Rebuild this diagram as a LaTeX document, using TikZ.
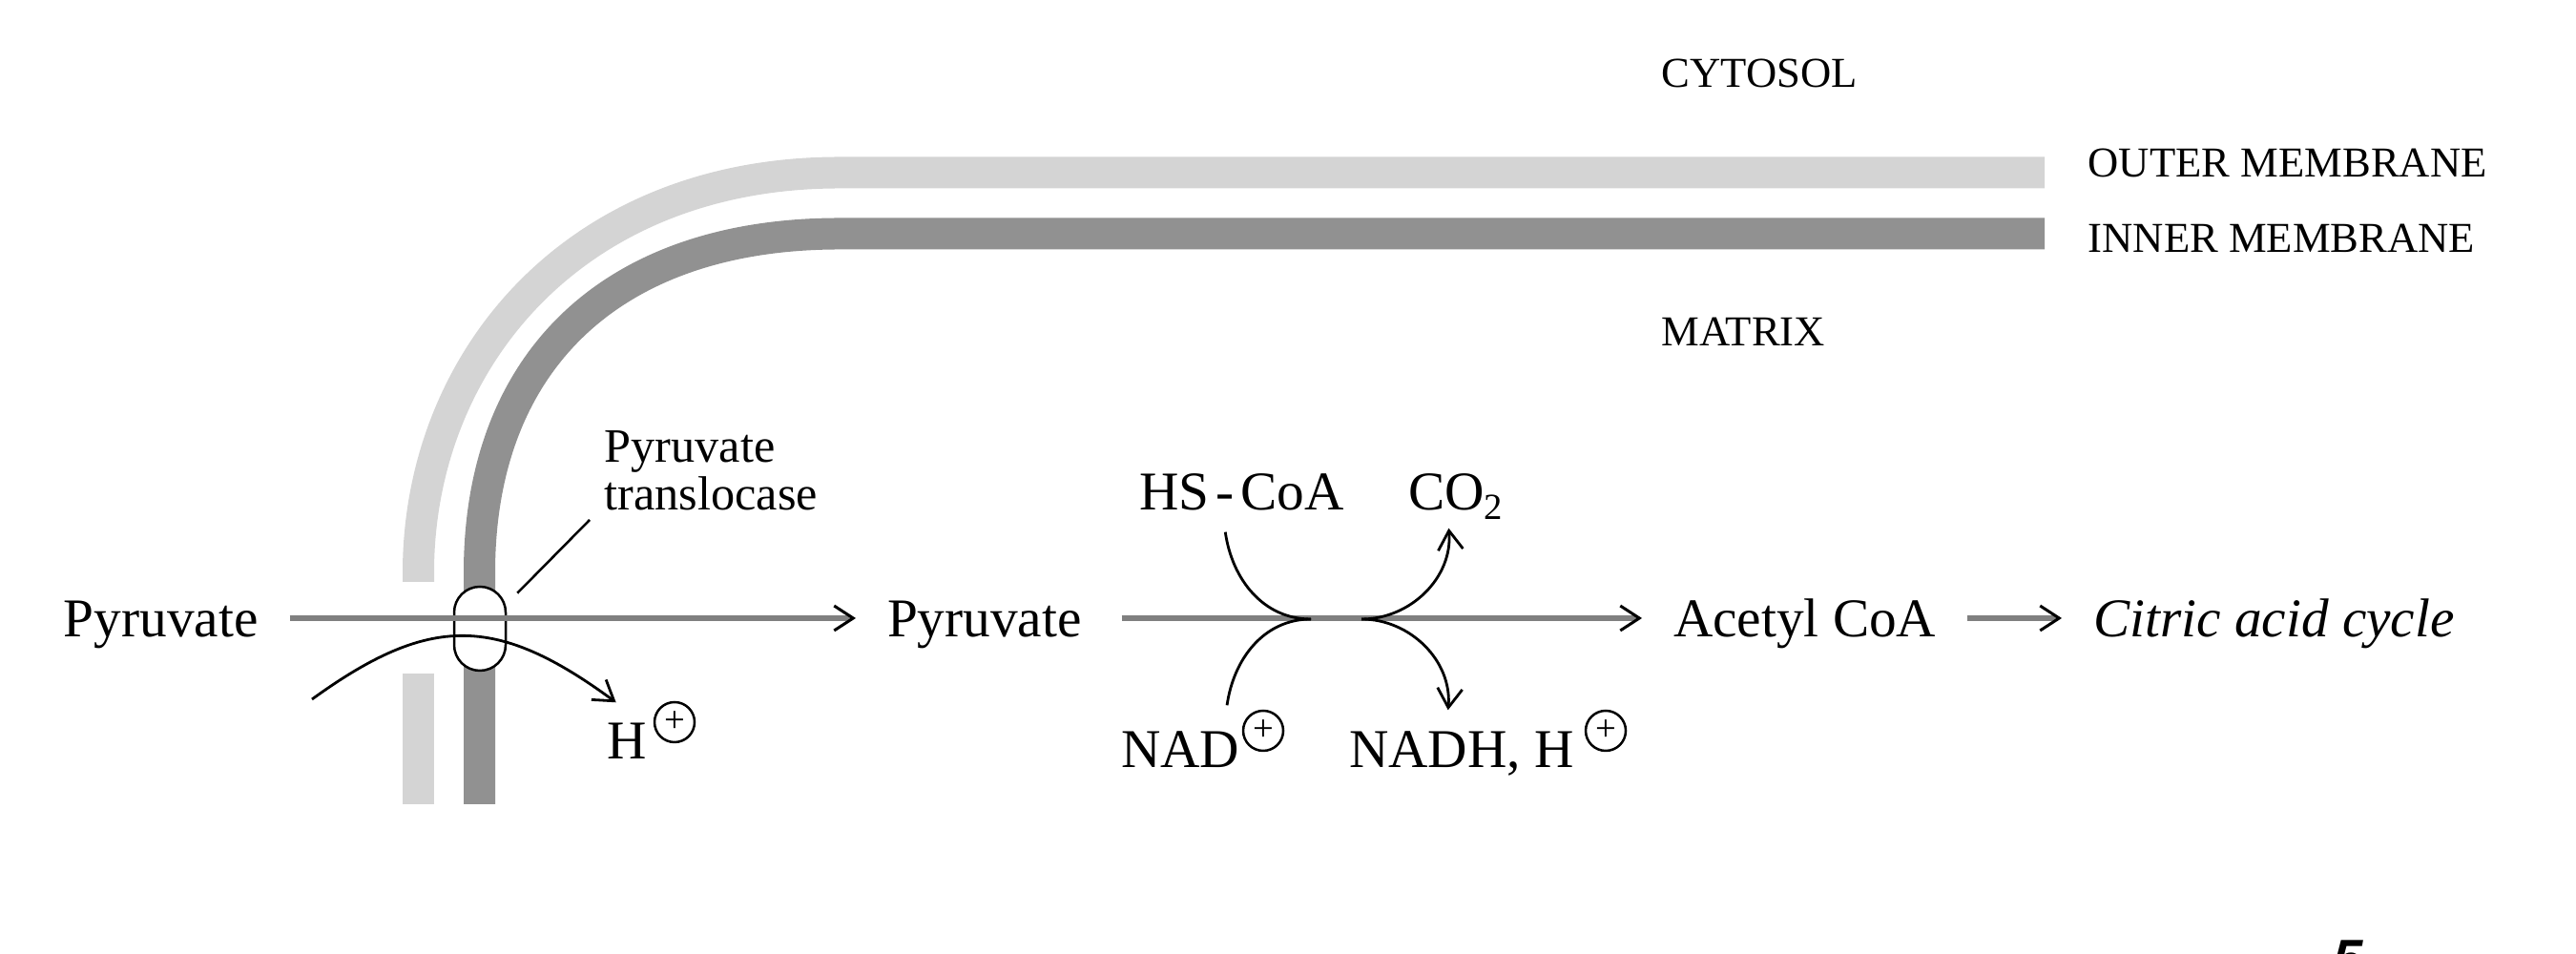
\documentclass[tikz,border=0pt]{standalone}
\usepackage{fontspec}
\setmainfont{Liberation Serif}
\usetikzlibrary{arrows.meta}
\newfontfamily\pagefont{Liberation Sans}
\definecolor{outerband}{gray}{0.83}
\definecolor{innerband}{gray}{0.57}
\tikzset{
 chem/.style={anchor=west,inner sep=0pt,outer xsep=0.33cm,text height=0.55cm,text depth=0.15cm,font=\fontsize{16.3}{19}\selectfont},
 region/.style={anchor=base west,inner sep=0pt,font=\fontsize{12.7}{15}\selectfont},
 charge/.style={circle,draw,line width=0.025cm,inner sep=0pt,minimum size=0.42cm,font=\fontsize{11}{11}\selectfont},
 flow/.style={draw=black!50,line width=0.055cm,-{Straight Barb[black,line width=0.03cm,length=2mm,width=2.6mm]}},
 rxn/.style={line width=0.028cm,-{Straight Barb[line width=0.028cm,length=2mm,width=2.6mm]}},
 band/.style={line width=0.33cm}
}
\begin{document}
\begin{tikzpicture}[scale=1.0]
\useasboundingbox (0,0) rectangle (27,10);

% membranes
\draw[band,outerband] (4.385,3.9) -- (4.385,4.0) .. controls (4.385,6.2) and (6.0,8.19) .. (8.8,8.19) -- (21.43,8.19);
\draw[band,outerband] (4.385,2.94) -- (4.385,1.57);
\draw[band,innerband] (5.025,1.57) -- (5.025,4.0) .. controls (5.025,6.2) and (6.4,7.55) .. (8.8,7.55) -- (21.43,7.55);

\node[region] (cytosol) at (17.41,9.08) {CYTOSOL};
\node[region] (outerlab) at (21.88,8.14) {OUTER MEMBRANE};
\node[region] (innerlab) at (21.88,7.35) {INNER MEMBRANE};
\node[region] (matrix) at (17.41,6.37) {MATRIX};

% main line
\node[draw,fill=white,line width=0.025cm,rounded corners=0.27cm,minimum width=0.54cm,minimum height=0.88cm] (transl) at (5.03,3.41) {};
\node[chem] (pyrA) at (0.34,3.52) {Pyruvate};
\node[chem] (pyrB) at (8.97,3.52) {Pyruvate};
\node[chem] (acetyl) at (17.21,3.52) {Acetyl CoA};
\node[chem] (citric) at (21.61,3.52) {\itshape Citric acid cycle};
\draw[flow] (pyrA) -- (pyrB);
\draw[flow,shorten <=0.09cm] (pyrB) -- (acetyl);
\draw[flow] (acetyl) -- (citric);

% translocase
\node[anchor=south west,inner sep=0pt,align=left,font=\fontsize{14.3}{14.2}\selectfont] (translab) at (6.33,4.64) {Pyruvate\\translocase};
\draw[line width=0.025cm] ([xshift=-0.15cm,yshift=-0.09cm]translab.south west) -- ([xshift=0.11cm,yshift=-0.08cm]transl.north east);
\node[chem] (proton) at (6.03,2.24) {H};
\node[charge] (protonc) at (7.07,2.43) {+};
\coordinate (protonin) at (3.27,2.67);
\draw[rxn] (protonin) .. controls (4.5,3.56) and (5.2,3.56) .. ([xshift=-0.11cm,yshift=0.04cm]proton.north);

% decarboxylation
\node[chem] (hscoa) at (11.61,4.85) {HS\kern0.07cm-\kern0.07cm CoA};
\node[chem] (cotwo) at (14.43,4.85) {CO\raisebox{-0.1cm}{\fontsize{11}{11}\selectfont 2}};
\node[chem] (nad) at (11.42,2.15) {NAD};
\node[charge] (nadc) at (13.24,2.34) {+};
\node[chem] (nadh) at (13.81,2.15) {NADH, H};
\node[charge] (nadhc) at (16.83,2.34) {+};
\coordinate (joinL) at (13.74,3.51);
\coordinate (joinR) at (14.27,3.51);
\draw[line width=0.028cm] ([xshift=-0.17cm,yshift=-0.07cm]hscoa.south) to[out=-82,in=180] (joinL);
\draw[line width=0.028cm] ([xshift=0.49cm,yshift=0.1cm]nad.north) to[out=82,in=180] (joinL);
\draw[rxn] (joinR) to[out=0,in=-85] ([xshift=-0.07cm,yshift=-0.03cm]cotwo.south);
\draw[rxn] (joinR) to[out=0,in=85] ([xshift=-0.14cm,yshift=0.05cm]nadh.north);

% page number, cut by the edge
\node[anchor=north west,inner sep=0pt,font=\pagefont\bfseries\itshape\fontsize{16}{16}\selectfont] (pageno) at (24.45,0.15) {5};

\end{tikzpicture}
\end{document}
